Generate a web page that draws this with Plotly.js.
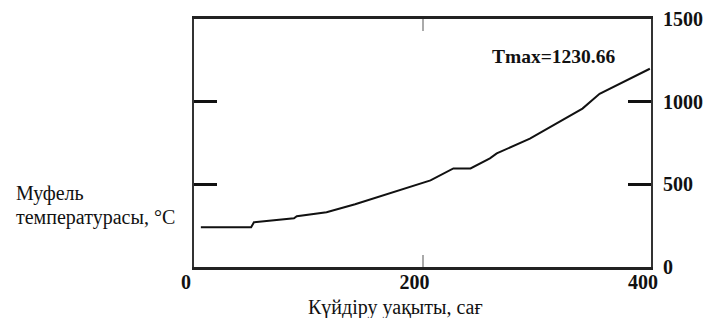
<!DOCTYPE html>
<html>
<head>
<meta charset="utf-8">
<script src="https://cdn.plot.ly/plotly-3.0.1.min.js"></script>
<style>html,body{margin:0;padding:0;background:#fff;}#chart{width:707px;height:318px;}</style>
</head>
<body>
<div id="chart"></div>
<script>
// Firing time (hours)
const timeHours = [6, 50, 52.5, 87.5, 90, 116, 141, 180, 207, 227, 242, 259, 265, 294, 340, 355, 373, 399];
// Muffle temperature (°C)
const temperatureC = [241, 241, 271, 295, 307, 331, 380, 464, 524, 596, 596, 657, 687, 777, 958, 1048, 1108, 1199];
const xTickVals = [0, 200, 400];
const xTickText = ['0', '200', '400'];
const yTickVals = [0, 500, 1000, 1500];
const yTickText = ['0', '500', '1000', '1500'];
const tmaxLabel = 'Tmax=1230.66';
const yTitleLines = ['Муфель', 'температурасы, °С'];
const xTitle = 'Күйдіру уақыты, сағ';

const serif = '"Liberation Serif", "Times New Roman", serif';

const trace = {
  x: timeHours,
  y: temperatureC,
  type: 'scatter',
  mode: 'lines',
  line: {color: '#111', width: 2},
  hoverinfo: 'skip'
};

const layout = {
  width: 707,
  height: 318,
  margin: {l: 194, r: 56, t: 19, b: 51},
  paper_bgcolor: '#fff',
  plot_bgcolor: '#fff',
  showlegend: false,
  xaxis: {
    range: [0, 400],
    tickvals: xTickVals,
    ticktext: xTickText,
    ticks: 'inside',
    ticklen: 12,
    tickwidth: 2,
    tickcolor: '#aaa',
    showline: true,
    linecolor: '#222',
    linewidth: 3,
    mirror: 'allticks',
    showgrid: false,
    zeroline: false,
    ticklabelstandoff: -5,
    ticklabelshift: -8,
    tickfont: {family: serif, size: 20, color: '#111', weight: 'bold'}
  },
  yaxis: {
    range: [0, 1500],
    side: 'right',
    tickvals: yTickVals,
    ticktext: yTickText,
    ticks: 'inside',
    ticklen: 23,
    tickwidth: 3,
    tickcolor: '#111',
    showline: true,
    linecolor: '#333',
    linewidth: 2,
    mirror: 'allticks',
    showgrid: false,
    zeroline: false,
    ticklabelstandoff: 6,
    tickfont: {family: serif, size: 20, color: '#111', weight: 'bold'}
  },
  annotations: [
    {
      text: tmaxLabel, xref: 'paper', yref: 'paper', x: 0.786, y: 0.847,
      xanchor: 'center', yanchor: 'middle', showarrow: false,
      bgcolor: '#fff',
      font: {family: serif, size: 19.5, color: '#111', weight: 'bold'}
    },
    {
      text: yTitleLines[0], xref: 'paper', yref: 'paper', x: -0.394, y: 0.298,
      xanchor: 'left', yanchor: 'middle', showarrow: false,
      font: {family: serif, size: 20, color: '#111'}
    },
    {
      text: yTitleLines[1], xref: 'paper', yref: 'paper', x: -0.394, y: 0.198,
      xanchor: 'left', yanchor: 'middle', showarrow: false,
      font: {family: serif, size: 20, color: '#111'}
    },
    {
      text: xTitle, xref: 'paper', yref: 'paper', x: 0.44, y: -0.11,
      xanchor: 'center', yanchor: 'top', showarrow: false,
      font: {family: serif, size: 20, color: '#111'}
    }
  ]
};

Plotly.newPlot('chart', [trace], layout, {displayModeBar: false, staticPlot: true});
</script>
</body>
</html>
